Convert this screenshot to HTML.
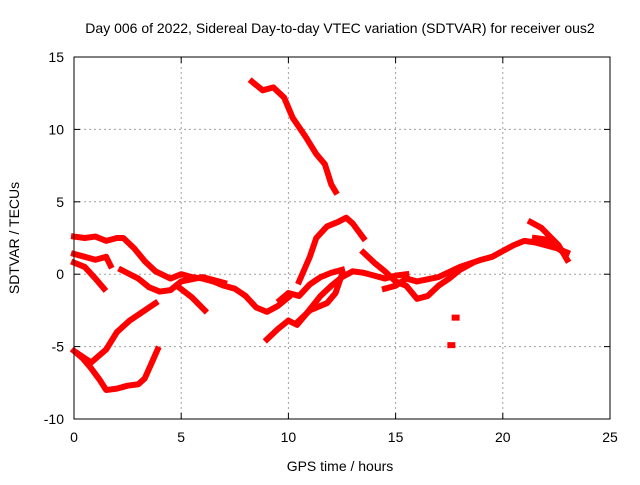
<!DOCTYPE html>
<html><head><meta charset="utf-8"><style>
body{margin:0;background:#fff;}
svg text{font-family:"Liberation Sans",sans-serif;font-size:14px;fill:#000;}
</style></head><body>
<svg id="chart" width="640" height="480" xmlns="http://www.w3.org/2000/svg">
<rect width="640" height="480" fill="#fff"/>
<text x="340" y="33" text-anchor="middle">Day 006 of 2022, Sidereal Day-to-day VTEC variation (SDTVAR) for receiver ous2</text>
<g id="grid"></g>
<g id="series"></g>
<g id="axes"></g>
<text x="340" y="471" text-anchor="middle">GPS time / hours</text>
<text transform="translate(19,238) rotate(-90)" text-anchor="middle">SDTVAR / TECUs</text>
</svg>
<script>
const xTicks=[0,5,10,15,20,25];
const yTicks=[15,10,5,0,-5,-10];
const sA=[[8.3,13.3],[8.8,12.7],[9.3,12.9],[9.8,12.2],[10.2,10.8],[10.8,9.5],[11.3,8.3],[11.7,7.6],[12,6.2],[12.2,5.7]];
const sB=[[0,2.6],[0.5,2.5],[1,2.6],[1.5,2.3],[2,2.5],[2.3,2.5],[2.8,1.8],[3.3,0.9],[3.8,0.2],[4.5,-0.3],[5,0],[5.5,-0.2],[6,-0.3],[6.5,-0.5],[7,-0.8],[7.5,-1],[8,-1.5],[8.5,-2.3],[9,-2.6],[9.5,-2.2],[10,-1.6]];
const sC=[[0,1.4],[0.5,1.2],[1,1],[1.5,1.2],[1.7,0.6]];
const sC2=[[0,0.8],[0.5,0.5],[1,-0.3],[1.4,-1]];
const sD=[[2.2,0.3],[3,-0.3],[3.5,-0.9],[4,-1.2],[4.5,-1.1],[5,-0.5],[6,-0.2],[7,-0.6]];
const sE=[[0.2,-5.5],[0.8,-6.1],[1.5,-5.2],[2,-4],[2.6,-3.2],[3,-2.8],[3.5,-2.3],[3.8,-2]];
const sF=[[0,-5.3],[0.4,-5.8],[0.8,-6.5],[1.2,-7.3],[1.5,-8],[2,-7.9],[2.5,-7.7],[3,-7.6],[3.3,-7.2],[3.6,-6.2],[3.9,-5.2]];
const sG=[[4.8,-0.8],[5.5,-1.6],[6.1,-2.5]];
const sH=[[10.5,-0.5],[11,1.2],[11.3,2.5],[11.8,3.3],[12.3,3.6],[12.7,3.9],[13,3.5],[13.5,2.5]];
const sI=[[9,-4.5],[9.5,-3.8],[10,-3.2],[10.4,-3.5],[10.8,-2.8],[11.5,-1.5],[12,-0.8],[12.5,-0.2],[13,0.2],[13.5,0.1],[14,-0.1],[14.5,-0.3],[15,-0.1],[15.5,0]];
const sJ=[[9.6,-1.8],[10,-1.3],[10.5,-1.5],[11,-0.7],[11.5,-0.2],[12,0.1],[12.5,0.3]];
const sJ2=[[10.5,-3.2],[11,-2.5],[11.8,-2],[12.2,-1.3],[12.5,0]];
const sK=[[13.5,1.5],[14,0.8],[14.5,0.2],[15,-0.5],[15.5,-0.8],[16,-1.7],[16.5,-1.5],[17,-0.8],[17.5,-0.3],[18,0.3],[18.5,0.7]];
const sL=[[14.5,-1],[15,-0.8],[15.5,-0.3],[16,-0.5],[17,-0.2],[18,0.5],[19,1],[19.5,1.2],[20,1.6],[20.5,2],[21,2.3],[21.5,2.2],[22,2],[22.5,1.8],[23,1.5]];
const sM=[[21.3,3.6],[21.8,3.2],[22.2,2.6],[22.6,2.0],[23,1.0]];
const sN=[[21.5,2.5],[22,2.4],[22.5,1.9],[22.9,1.4]];
const sDots=[[17.8,-3],[17.6,-4.9]];
const allSeries=[sA,sB,sC,sC2,sD,sE,sF,sG,sH,sI,sJ,sJ2,sK,sL,sM,sN];
const X0=74,X1=610,Y0=57,Y1=419;
const xs=v=>X0+(v-0)/25*(X1-X0);
const ys=v=>Y1-(v+10)/25*(Y1-Y0);
const NS="http://www.w3.org/2000/svg";
function mk(t,a,p){const e=document.createElementNS(NS,t);for(const k in a)e.setAttribute(k,a[k]);p.appendChild(e);return e;}
const grid=document.getElementById('grid'),axes=document.getElementById('axes'),ser=document.getElementById('series');
xTicks.forEach(t=>{const x=xs(t);
 if(t>0&&t<25){const l=mk('line',{x1:x,x2:x,y1:Y0,y2:Y1,stroke:'#a0a0a0','stroke-dasharray':'2,3'},grid);
 
 }
 const tx=mk('text',{x:x,y:Y1+23,'text-anchor':'middle'},axes);tx.textContent=t;
 
 
 mk('line',{x1:x,x2:x,y1:Y1,y2:Y1-6,stroke:'#000'},axes);mk('line',{x1:x,x2:x,y1:Y0,y2:Y0+6,stroke:'#000'},axes);});
yTicks.forEach(t=>{const y=ys(t);
 if(t<15&&t>-10){const l=mk('line',{x1:X0,x2:X1,y1:y,y2:y,stroke:'#a0a0a0','stroke-dasharray':'2,3'},grid);
 
 }
 const tx=mk('text',{x:X0-10,y:y+5,'text-anchor':'end'},axes);tx.textContent=t;
 
 
 mk('line',{x1:X0,x2:X0+6,y1:y,y2:y,stroke:'#000'},axes);mk('line',{x1:X1,x2:X1-6,y1:y,y2:y,stroke:'#000'},axes);});
const fr=mk('rect',{x:X0,y:Y0,width:X1-X0,height:Y1-Y0,fill:'none',stroke:'#000'},axes);


allSeries.forEach((s,i)=>{
 const p=mk('polyline',{points:s.map(d=>xs(d[0])+','+ys(d[1])).join(' '),fill:'none',stroke:'#ff0000','stroke-width':6,'stroke-linejoin':'round','stroke-linecap':'square'},ser);
 
 
});
sDots.forEach(d=>{
 const r=mk('rect',{x:xs(d[0])-4,y:ys(d[1])-3,width:8,height:6,fill:'#ff0000'},ser);
 
 
});
</script>
</body></html>
